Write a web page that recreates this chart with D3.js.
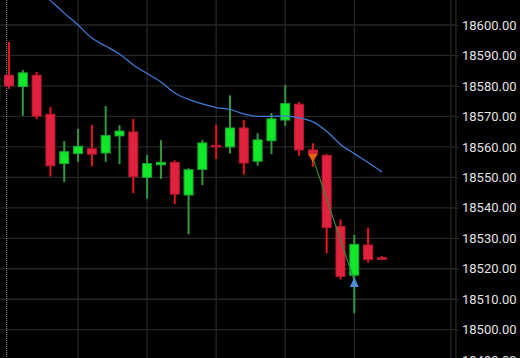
<!DOCTYPE html>
<html>
<head>
<meta charset="utf-8">
<script src="https://cdn.jsdelivr.net/npm/d3@7"></script>
<style>
  html, body { margin: 0; padding: 0; background: #000; overflow: hidden; }
  svg { display: block; }
</style>
</head>
<body>
<svg id="chart" width="520" height="358"></svg>
<script>
// candle data, index 0 is the half hidden one on the left edge
var idx    = [0,1,2,3,4,5,6,7,8,9,10,11,12,13,14,15,16,17,18,19,20,21,22,23,24,25,26,27,28];
var opens  = [18575.8,18583.5,18579.8,18583.5,18570.7,18554.5,18557.8,18559.4,18558.0,18563.6,18564.9,18550.0,18554.1,18554.9,18544.2,18552.6,18560.5,18560.0,18566.2,18555.3,18562.0,18568.8,18574.0,18559.0,18557.2,18533.9,18517.9,18527.8,18523.6];
var highs  = [18588.0,18594.4,18585.2,18584.6,18573.1,18561.9,18565.9,18567.2,18573.4,18567.1,18569.2,18557.3,18562.2,18555.6,18553.0,18562.3,18567.3,18576.9,18568.8,18564.5,18571.1,18580.3,18574.7,18561.2,18557.7,18536.2,18531.1,18533.5,18524.2];
var lows   = [18570.0,18579.1,18570.2,18569.1,18550.3,18548.4,18555.1,18553.6,18555.1,18554.3,18544.8,18543.0,18549.5,18541.3,18531.3,18547.5,18556.0,18557.8,18550.9,18553.8,18557.6,18566.9,18557.1,18553.5,18525.1,18516.5,18505.4,18522.0,18522.9];
var closes = [18583.0,18580.0,18584.3,18570.1,18553.8,18558.4,18560.2,18557.6,18563.7,18565.2,18550.2,18554.5,18554.9,18544.5,18552.5,18561.3,18560.1,18566.2,18554.7,18562.3,18569.2,18574.2,18559.0,18557.7,18533.5,18517.5,18528.0,18523.0,18523.1];

// moving average, from candle 3 on
var maIdx = [3,4,5,6,7,8,9,10,11,12,13,14,15,16,17,18,19,20,21,22,23,24,25,26,27,28];
var maVal = [18612.1,18608.0,18603.9,18600.0,18595.7,18593.1,18590.5,18586.9,18584.1,18581.3,18577.7,18575.6,18574.1,18572.9,18572.3,18570.8,18570.0,18570.0,18570.2,18569.5,18568.2,18565.1,18560.8,18557.8,18554.9,18551.8];

// trade signals
var sellSignal = {i: 23, price: 18556.4};
var buySignal  = {i: 26, price: 18516.0};

var yTicks = [18490,18500,18510,18520,18530,18540,18550,18560,18570,18580,18590,18600];
var gridIdx = [6, 11, 16, 21, 26];

var svg = d3.select("#chart");
var width = +svg.attr("width"),
    height = +svg.attr("height");
var plotRight = 456;

var x = d3.scaleLinear().domain([1, 26]).range([9, 354.3]);
var y = d3.scaleLinear().domain([18500, 18600]).range([329.7, 25]);

svg.append("rect").attr("width", width).attr("height", height).attr("fill", "#000");

// grid
var grid = svg.append("g").attr("stroke", "#262626").attr("stroke-width", 1.3);
grid.selectAll(".h").data(yTicks).enter().append("line")
  .attr("x1", 0).attr("x2", plotRight)
  .attr("y1", d => y(d)).attr("y2", d => y(d));
grid.selectAll(".v").data(gridIdx).enter().append("line")
  .attr("x1", d => x(d)).attr("x2", d => x(d))
  .attr("y1", 0).attr("y2", height);
grid.append("line").attr("x1", plotRight - 5).attr("x2", plotRight - 5).attr("y1", 0).attr("y2", height);
grid.append("line").attr("x1", plotRight).attr("x2", plotRight).attr("y1", 0).attr("y2", height);

// dotted session marker
svg.append("line")
  .attr("x1", x(0.83)).attr("x2", x(0.83))
  .attr("y1", 0).attr("y2", height)
  .attr("stroke", "#9a9a9a").attr("stroke-width", 1)
  .attr("stroke-dasharray", "1,1");

// right axis
var axis = svg.append("g")
  .attr("transform", "translate(" + plotRight + ",0)")
  .call(d3.axisRight(y).tickValues(yTicks).tickFormat(d3.format(".2f")).tickSize(3).tickPadding(3));
axis.select(".domain").remove();
axis.selectAll("line").attr("stroke", "#262626");
axis.selectAll("text")
  .attr("fill", "#e2e2e2")
  .style("font-family", "Roboto, 'Noto Sans', sans-serif")
  .style("font-size", "13px");

var candles = idx.map((d, k) => ({i: d, o: opens[k], h: highs[k], l: lows[k], c: closes[k]}));

var g = svg.append("g");
// wicks
g.selectAll(".wick").data(candles).enter().append("line")
  .attr("x1", d => x(d.i)).attr("x2", d => x(d.i))
  .attr("y1", d => y(d.h)).attr("y2", d => y(d.l))
  .attr("stroke", d => d.c >= d.o ? "#2f9a3c" : "#e8141c")
  .attr("stroke-width", 2);
// bodies
g.selectAll(".body").data(candles).enter().append("rect")
  .attr("x", d => x(d.i) - 4.5)
  .attr("width", 9)
  .attr("y", d => y(Math.max(d.o, d.c)))
  .attr("height", d => Math.max(1.5, Math.abs(y(d.o) - y(d.c))))
  .attr("fill", d => d.c >= d.o ? "#12e82a" : "#e0223e")
  .attr("stroke", d => d.c >= d.o ? "#1aa82e" : "#b81a30")
  .attr("stroke-width", 1);

// moving average
var ma = maIdx.map((d, k) => [d, maVal[k]]);
svg.append("path")
  .datum(ma)
  .attr("fill", "none")
  .attr("stroke", "#3d7ad6")
  .attr("stroke-width", 1.3)
  .attr("d", d3.line().x(d => x(d[0])).y(d => y(d[1])).curve(d3.curveMonotoneX));

// signal link
svg.append("line")
  .attr("x1", x(sellSignal.i)).attr("y1", y(sellSignal.price))
  .attr("x2", x(buySignal.i)).attr("y2", y(buySignal.price))
  .attr("stroke", "#2f8a3a").attr("stroke-width", 1.2);

// sell marker (down) and buy marker (up)
var sx = x(sellSignal.i), sy = y(sellSignal.price);
svg.append("path")
  .attr("d", "M" + (sx - 5) + "," + (sy - 4) + "L" + (sx + 5) + "," + (sy - 4) + "L" + sx + "," + (sy + 4.5) + "Z")
  .attr("fill", "#e8600e");
var bx = x(buySignal.i), by = y(buySignal.price);
svg.append("path")
  .attr("d", "M" + (bx - 4.5) + "," + (by + 6) + "L" + (bx + 4.5) + "," + (by + 6) + "L" + bx + "," + (by - 3.5) + "Z")
  .attr("fill", "#4a8fd8");
</script>
</body>
</html>
